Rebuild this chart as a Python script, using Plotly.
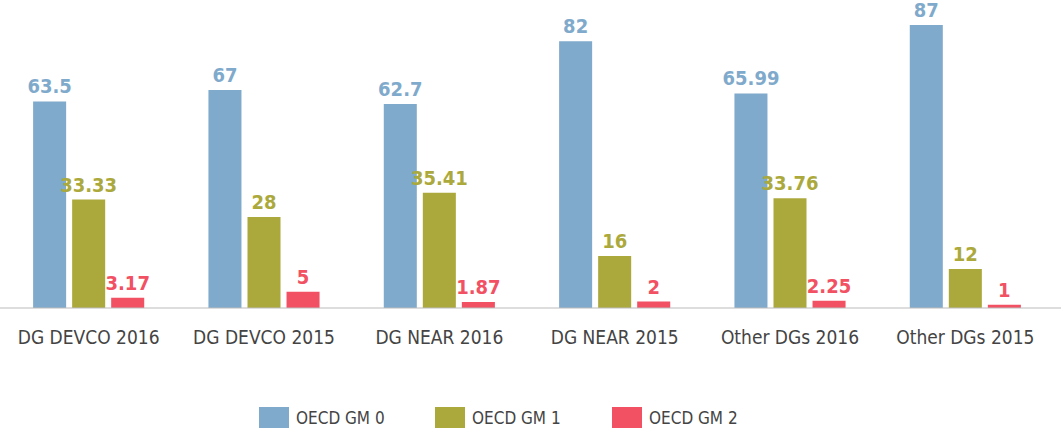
import plotly.graph_objects as go

categories = ["DG DEVCO 2016", "DG DEVCO 2015", "DG NEAR 2016", "DG NEAR 2015", "Other DGs 2016", "Other DGs 2015"]
series_names = ["OECD GM 0", "OECD GM 1", "OECD GM 2"]
gm0 = [63.5, 67, 62.7, 82, 65.99, 87]
gm1 = [33.33, 28, 35.41, 16, 33.76, 12]
gm2 = [3.17, 5, 1.87, 2, 2.25, 1]
colors = ["#7FAACB", "#ACA93C", "#F15162"]

FONT = "DejaVu Sans Condensed"
W, H = 1061, 432
ML, MR, MT, MB = 1, 8, 0, 124
plot_w = W - ML - MR
plot_h = H - MT - MB

fig = go.Figure()
for name, vals, col in zip(series_names, [gm0, gm1, gm2], colors):
    fig.add_trace(go.Bar(
        x=categories, y=vals, name=name,
        marker=dict(color=col, line=dict(width=0)),
        text=[f"{v:g}" for v in vals],
        textposition="outside",
        constraintext="none",
        textfont=dict(family=FONT, size=20, color=col, weight="bold"),
        cliponaxis=False,
        showlegend=False,
    ))

shapes = [dict(type="line", xref="paper", yref="paper", x0=-0.002, x1=1 + MR / plot_w,
               y0=0, y1=0, line=dict(color="#BBBBBB", width=1.2))]
annotations = []

def px_x(px):
    return (px - ML) / plot_w

def px_y(py):
    return (MT + plot_h - py) / plot_h

leg_sq_x = [259, 435, 612]
for i, (name, col) in enumerate(zip(series_names, colors)):
    x0 = leg_sq_x[i]
    shapes.append(dict(type="rect", xref="paper", yref="paper",
                       x0=px_x(x0), x1=px_x(x0 + 30), y0=px_y(428), y1=px_y(407),
                       fillcolor=col, line=dict(width=0)))
    annotations.append(dict(xref="paper", yref="paper", x=px_x(x0 + 35), y=px_y(418),
                            xanchor="left", yanchor="middle", showarrow=False,
                            text=name, font=dict(family=FONT, size=17, color="#444444")))

fig.update_layout(
    width=W, height=H,
    margin=dict(l=ML, r=MR, t=MT, b=MB, autoexpand=False),
    paper_bgcolor="white", plot_bgcolor="white",
    barmode="group", bargap=0.332, bargroupgap=0.154,
    xaxis=dict(showgrid=False, showline=False, zeroline=False, ticks="outside",
               ticklen=12, tickcolor="rgba(0,0,0,0)", automargin=False,
               tickfont=dict(family=FONT, size=19, color="#444444")),
    yaxis=dict(range=[0, 94.7], visible=False, showgrid=False, zeroline=False, automargin=False),
    shapes=shapes, annotations=annotations,
    showlegend=False,
)

fig.write_html("out.html", config={"displayModeBar": False},
               post_script="document.body.style.margin='0';document.body.style.overflow='hidden';")
